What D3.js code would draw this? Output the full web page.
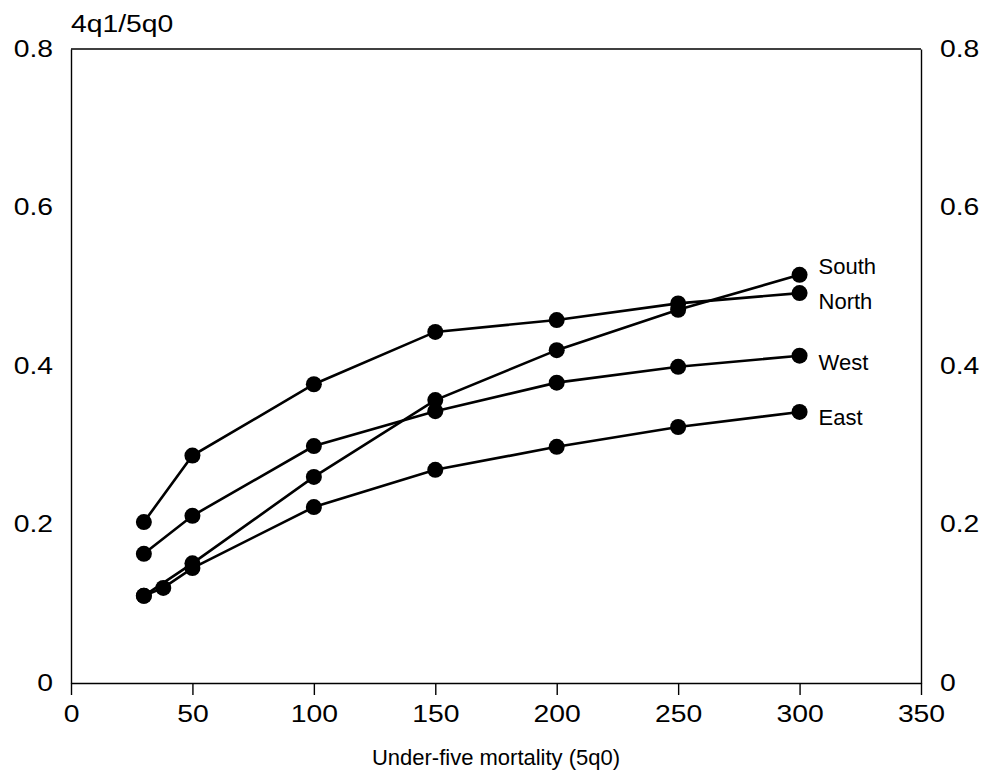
<!DOCTYPE html>
<html>
<head>
<meta charset="utf-8">
<script src="https://cdn.jsdelivr.net/npm/d3@7"></script>
<style>
  body { margin: 0; background: #fff; }
  text { font-family: "Liberation Sans", Arial, sans-serif; fill: #000; }
</style>
</head>
<body>
<svg width="983" height="777"></svg>
<script>
// values
var seriesNames = ["North", "South", "West", "East"];

var northX = [30, 50, 100, 150, 200, 250, 300];
var northY = [0.203, 0.287, 0.377, 0.443, 0.458, 0.479, 0.492];

var southX = [30, 50, 100, 150, 200, 250, 300];
var southY = [0.110, 0.151, 0.260, 0.357, 0.420, 0.471, 0.515];

var westX = [30, 50, 100, 150, 200, 250, 300];
var westY = [0.163, 0.211, 0.299, 0.343, 0.379, 0.399, 0.413];

var eastX = [30, 38, 50, 100, 150, 200, 250, 300];
var eastY = [0.110, 0.120, 0.145, 0.222, 0.269, 0.298, 0.323, 0.342];

var xTicks = [0, 50, 100, 150, 200, 250, 300, 350];
var yTicks = [0, 0.2, 0.4, 0.6, 0.8];

var yLabel = "4q1/5q0";
var xLabel = "Under-five mortality (5q0)";

// label nudges (px) relative to last point of each series
var labelDy = { North: 8, South: -9, West: 7, East: 5 };

var svg = d3.select("svg"),
    stretch = 1.18;

var x = d3.scaleLinear().domain([0, 350]).range([71, 921]);
var y = d3.scaleLinear().domain([0, 0.8]).range([683, 49]);

function widen(sel) {
  sel.selectAll("text")
    .attr("x", function() { return (+this.getAttribute("x") || 0) / stretch; })
    .attr("transform", "scale(" + stretch + ",1)");
}

var gx = svg.append("g")
    .attr("transform", "translate(0," + y(0) + ")")
    .call(d3.axisBottom(x).tickValues(xTicks).tickSize(12).tickSizeOuter(0).tickPadding(10));

var gl = svg.append("g")
    .attr("transform", "translate(" + x(0) + ",0)")
    .call(d3.axisLeft(y).tickValues(yTicks).tickSize(0).tickPadding(18).tickFormat(d3.format("")));

var gr = svg.append("g")
    .attr("transform", "translate(" + x(350) + ",0)")
    .call(d3.axisRight(y).tickValues(yTicks).tickSize(0).tickPadding(19).tickFormat(d3.format("")));

[gx, gl, gr].forEach(function(g) {
  g.selectAll("path, line").attr("stroke", "#000").attr("stroke-width", 1.4);
  g.selectAll("text").style("font-size", "24px").attr("fill", "#000");
  g.selectAll("text").attr("font-family", null);
  widen(g);
});
gl.selectAll("text").attr("dy", "0.3em");
gr.selectAll("text").attr("dy", "0.3em");

// top border
svg.append("line")
    .attr("x1", x(0)).attr("x2", x(350))
    .attr("y1", y(0.8)).attr("y2", y(0.8))
    .attr("stroke", "#000").attr("stroke-width", 1.4);

svg.append("text")
    .attr("transform", "translate(" + x(0) + ",32) scale(" + stretch + ",1)")
    .style("font-size", "24px")
    .text(yLabel);

svg.append("text")
    .attr("x", (x(0) + x(350)) / 2 - 0)
    .attr("y", 765)
    .attr("text-anchor", "middle")
    .style("font-size", "22px")
    .text(xLabel);

var series = [
  { name: "North", xs: northX, ys: northY },
  { name: "South", xs: southX, ys: southY },
  { name: "West", xs: westX, ys: westY },
  { name: "East", xs: eastX, ys: eastY }
].map(function(s) {
  return { name: s.name, pts: s.xs.map(function(v, i) { return [v, s.ys[i]]; }) };
});

var line = d3.line()
    .x(function(d) { return x(d[0]); })
    .y(function(d) { return y(d[1]); });

svg.append("g").selectAll("path")
  .data(series)
  .enter().append("path")
    .attr("d", function(d) { return line(d.pts); })
    .attr("fill", "none")
    .attr("stroke", "#000")
    .attr("stroke-width", 2.6);

series.forEach(function(s) {
  svg.append("g").selectAll("circle")
    .data(s.pts)
    .enter().append("circle")
      .attr("cx", function(d) { return x(d[0]); })
      .attr("cy", function(d) { return y(d[1]); })
      .attr("r", 8)
      .attr("fill", "#000");
});

svg.append("g").selectAll("text")
  .data(series)
  .enter().append("text")
    .attr("x", function(d) { return x(d.pts[d.pts.length - 1][0]) + 19; })
    .attr("y", function(d) { return y(d.pts[d.pts.length - 1][1]) + labelDy[d.name]; })
    .attr("dy", "0.35em")
    .style("font-size", "22px")
    .text(function(d) { return d.name; });
</script>
</body>
</html>
